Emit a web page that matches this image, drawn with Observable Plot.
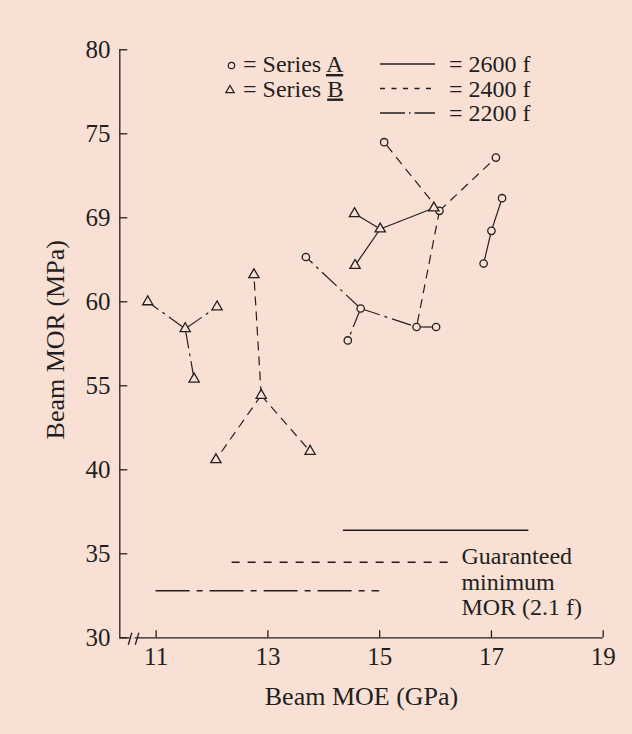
<!DOCTYPE html>
<html><head><meta charset="utf-8">
<script src="https://cdn.jsdelivr.net/npm/d3@7"></script>
<script src="https://cdn.jsdelivr.net/npm/@observablehq/plot@0.6"></script>
<style>body{margin:0;background:#f9e0d5;}</style>
</head><body><div id="chart"></div>
<script>
// ---- data ----
const yTicks = [30, 35, 40, 55, 60, 69, 75, 80];   // MOR tick labels (evenly spaced in the figure)
const xTicks = [11, 13, 15, 17, 19];               // MOE tick labels
// Series A (circles): [MOE GPa, MOR MPa]
const pointsA = [
  [13.68, 64.8], [14.66, 59.6], [14.43, 57.7], [15.66, 58.5], [16.01, 58.5],
  [15.08, 74.4], [16.07, 69.5], [17.08, 73.3],
  [17.19, 70.4], [17.00, 67.6], [16.86, 64.1]
];
// Series B (triangles)
const pointsB = [
  [10.85, 60.0], [11.52, 58.4], [12.09, 59.7], [11.68, 55.4],
  [12.75, 62.9], [12.88, 53.3], [12.07, 41.8], [13.755, 43.3],
  [14.55, 69.3], [15.01, 67.8], [14.56, 63.9], [15.97, 69.7]
];
// connections: [from index, to index, grade]
const linksA = [
  [1, 0, 2200], [1, 2, 2200], [1, 3, 2200], [3, 4, 2200],
  [6, 5, 2400], [6, 7, 2400], [6, 3, 2400],
  [8, 9, 2600], [9, 10, 2600]
];
const linksB = [
  [1, 0, 2200], [1, 2, 2200], [1, 3, 2200],
  [5, 4, 2400], [5, 6, 2400], [5, 7, 2400],
  [9, 8, 2600], [9, 10, 2600], [9, 11, 2600]
];
const grades = [2600, 2400, 2200];
const gradeLabels = ["= 2600 f", "= 2400 f", "= 2200 f"];
const guaranteedMOR = [36.4, 34.5, 32.8];   // guaranteed minimum MOR lines
const guaranteedX1 = [14.35, 12.36, 11.0];
const guaranteedX2 = [17.67, 16.32, 15.0];
const seriesLabels = ["A", "B"];
const noteText = "Guaranteed\nminimum\nMOR (2.1 f)";
const xTitle = "Beam MOE (GPa)";
const yTitle = "Beam MOR (MPa)";

// ---- style ----
const bg = "#f9e0d5", ink = "#231f20";
const font = "'Liberation Serif','Times New Roman',serif";
const dataDash = {2600: null, 2400: "9,6", 2200: "20,5,3,5"};
const minDash = {2600: null, 2400: "8,8", 2200: "34,7,6,7"};
const legendDash = {2600: null, 2400: "5,6.5", 2200: "25,4,1.5,4"};

const W = 632, H = 734, mT = 49.3, mB = 96.7, mL = 119.3, mR = 29.3;
const xMin = 10.35;
const step = (H - mB - mT) / (yTicks.length - 1);
const yRange = yTicks.map((_, i) => H - mB - i * step);

const toLinks = (pts, links) => links.map(([a, b, g]) => ({grade: g, x1: pts[a][0], y1: pts[a][1], x2: pts[b][0], y2: pts[b][1]}));
const allLinks = [...toLinks(pointsA, linksA), ...toLinks(pointsB, linksB)];
const minLines = grades.map((g, i) => ({grade: g, y: guaranteedMOR[i], x1: guaranteedX1[i], x2: guaranteedX2[i]}));

const chart = Plot.plot({
  width: W, height: H, marginTop: mT, marginBottom: mB, marginLeft: mL, marginRight: mR,
  style: {background: bg, fontFamily: font, fontSize: "25px", color: ink},
  x: {domain: [xMin, 19]},
  y: {type: "linear", domain: yTicks, range: yRange},
  marks: [
    Plot.ruleX([xMin], {stroke: ink, strokeWidth: 1.3}),
    Plot.ruleY([30], {stroke: ink, strokeWidth: 1.3}),
    Plot.axisX({ticks: xTicks, tickSize: -7, tickPadding: 16.7, label: null, stroke: ink, strokeWidth: 1.3, fill: ink}),
    Plot.axisY({ticks: yTicks, tickSize: -8, tickPadding: 17.3, label: null, stroke: ink, strokeWidth: 1.3, fill: ink}),
    ...grades.map(g => Plot.ruleY(minLines.filter(d => d.grade === g), {y: "y", x1: "x1", x2: "x2", stroke: ink, strokeWidth: 1.4, strokeDasharray: minDash[g]})),
    Plot.text([noteText], {x: guaranteedX2[1], y: guaranteedMOR[1], dx: 8, dy: -17, textAnchor: "start", lineAnchor: "top", lineHeight: 1.08, fontSize: 24, fill: ink}),
    ...grades.map(g => Plot.link(allLinks.filter(d => d.grade === g), {x1: "x1", y1: "y1", x2: "x2", y2: "y2", stroke: ink, strokeWidth: 1.2, strokeDasharray: dataDash[g]})),
    Plot.dot(pointsA, {x: d => d[0], y: d => d[1], r: 3.7, symbol: "circle", fill: bg, stroke: ink, strokeWidth: 1.3}),
    Plot.dot(pointsB, {x: d => d[0], y: d => d[1], r: 3.8, symbol: "triangle", fill: bg, stroke: ink, strokeWidth: 1.3}),
    Plot.text([xTitle], {frameAnchor: "bottom", dy: 66.7, lineAnchor: "bottom", fontSize: 26, fill: ink}),
    Plot.text([yTitle], {frameAnchor: "left", dx: -56, dy: -4, rotate: -90, textAnchor: "middle", lineAnchor: "bottom", fontSize: 26, fill: ink})
  ]
});
document.getElementById("chart").appendChild(chart);

// ---- legend & axis break (layout decorations) ----
const svg = d3.select(chart);
const x0 = chart.scale("x").apply(xMin), yb = chart.scale("y").apply(30);
const brk = svg.append("g").attr("stroke", ink).attr("stroke-width", 1.3);
brk.append("line").attr("x1", x0 + 10.5).attr("x2", x0 + 15.5).attr("y1", yb).attr("y2", yb).attr("stroke", bg).attr("stroke-width", 3);
[9, 16].forEach(o => brk.append("line").attr("x1", x0 + o).attr("y1", yb + 7.5).attr("x2", x0 + o + 3.5).attr("y2", yb - 4.5));

const lg = svg.append("g").attr("fill", ink).attr("text-anchor", "start")
  .style("font-family", font).style("font-size", "24px");
const baselines = [72, 96.5, 121];
seriesLabels.forEach((s, i) => {
  const by = baselines[i];
  if (i === 0) lg.append("circle").attr("cx", 231.5).attr("cy", by - 6.5).attr("r", 3.2).attr("fill", "none").attr("stroke", ink).attr("stroke-width", 1.2);
  else {
    const cx = 230, cy = by - 7;
    lg.append("path").attr("d", `M${cx - 4.2},${cy + 3.2}L${cx + 4.2},${cy + 3.2}L${cx},${cy - 4}Z`).attr("fill", "none").attr("stroke", ink).attr("stroke-width", 1.2);
  }
  const t = lg.append("text").attr("x", 243).attr("y", by).attr("text-anchor", "start");
  t.append("tspan").text("= Series ");
  t.append("tspan").text(s).style("text-decoration", "underline");
});
grades.forEach((g, i) => {
  const by = baselines[i];
  lg.append("line").attr("x1", 380).attr("x2", 435).attr("y1", by - 8).attr("y2", by - 8)
    .attr("stroke", ink).attr("stroke-width", 1.3).attr("stroke-dasharray", legendDash[g]);
  lg.append("text").attr("x", 449).attr("y", by).attr("text-anchor", "start").text(gradeLabels[i]);
});
</script>
</body></html>
